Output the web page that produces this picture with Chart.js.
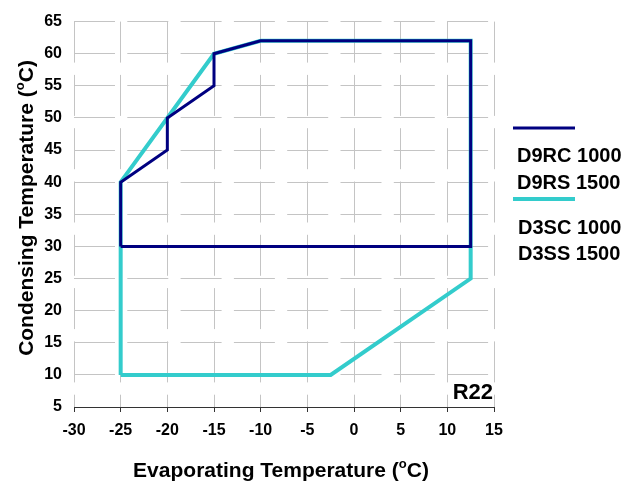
<!DOCTYPE html>
<html>
<head>
<meta charset="utf-8">
<script src="https://cdn.jsdelivr.net/npm/chart.js@4.4.0/dist/chart.umd.min.js"></script>
<style>
  html, body { margin: 0; padding: 0; background: #fff; }
  #wrap { width: 644px; height: 487px; }
</style>
</head>
<body>
<div id="wrap"><canvas id="chart" width="644" height="487"></canvas></div>
<script>
// operating envelope D9RC 1000 / D9RS 1500 (evaporating, condensing)
const evapD9 = [-25, -25, -20, -20, -15, -15, -10, 12.5, 12.5, -25];
const condD9 = [30, 40, 45, 50, 55, 60, 62, 62, 30, 30];
// operating envelope D3SC 1000 / D3SS 1500
const evapD3 = [-25, -25, -15, -10, 12.5, 12.5, -2.5, -25];
const condD3 = [10, 40, 60, 62, 62, 25, 10, 10];

const legendD9 = ['D9RC 1000', 'D9RS 1500'];
const legendD3 = ['D3SC 1000', 'D3SS 1500'];
const refrigerant = 'R22';

const xTitle = ['Evaporating Temperature (', 'o', 'C)'];
const yTitle = ['Condensing Temperature (', 'o', 'C)'];

const NAVY = '#000080';
const CYAN = '#33CCCC';
const FONT = '"Liberation Sans", Arial, sans-serif';

function toPoints(xs, ys) {
    return xs.map((x, i) => ({ x: x, y: ys[i] }));
}

// --- draw "text (oC)" with a raised small o ---
function drawSupText(ctx, parts, x, y, size) {
    const big = 'bold ' + size + 'px ' + FONT;
    const small = 'bold ' + Math.round(size * 0.62) + 'px ' + FONT;
    ctx.font = big;
    const w1 = ctx.measureText(parts[0]).width;
    const w3 = ctx.measureText(parts[2]).width;
    ctx.font = small;
    const w2 = ctx.measureText(parts[1]).width;
    let cx = x - (w1 + w2 + w3) / 2;
    ctx.textAlign = 'left';
    ctx.textBaseline = 'alphabetic';
    ctx.font = big;
    ctx.fillText(parts[0], cx, y);
    cx += w1;
    ctx.font = small;
    ctx.fillText(parts[1], cx, y - size * 0.42);
    cx += w2;
    ctx.font = big;
    ctx.fillText(parts[2], cx, y);
}

const annotations = {
    id: 'annotations',
    afterDraw(chart) {
        const ctx = chart.ctx;
        ctx.save();
        ctx.fillStyle = '#000';

        // axis titles
        drawSupText(ctx, xTitle, 281, 477, 21);
        ctx.save();
        ctx.translate(33, 208);
        ctx.rotate(-Math.PI / 2);
        drawSupText(ctx, yTitle, 0, 0, 21);
        ctx.restore();

        // refrigerant label
        ctx.font = 'bold 22px ' + FONT;
        ctx.textAlign = 'right';
        ctx.textBaseline = 'alphabetic';
        ctx.fillText(refrigerant, 493, 399);

        // legend
        ctx.lineCap = 'butt';
        ctx.strokeStyle = NAVY;
        ctx.lineWidth = 3;
        ctx.beginPath();
        ctx.moveTo(513, 128);
        ctx.lineTo(575, 128);
        ctx.stroke();
        ctx.strokeStyle = CYAN;
        ctx.lineWidth = 4;
        ctx.beginPath();
        ctx.moveTo(513, 199);
        ctx.lineTo(575, 199);
        ctx.stroke();

        ctx.font = 'bold 20px ' + FONT;
        ctx.textAlign = 'left';
        ctx.fillText(legendD9[0], 517, 162);
        ctx.fillText(legendD9[1], 517, 189);
        ctx.fillText(legendD3[0], 518, 234);
        ctx.fillText(legendD3[1], 518, 260);
        ctx.restore();
    }
};

const gridDash = [41, 12.3];

new Chart(document.getElementById('chart'), {
    type: 'scatter',
    data: {
        datasets: [
            {
                label: legendD9.join(' / '),
                data: toPoints(evapD9, condD9),
                showLine: true,
                borderColor: NAVY,
                borderWidth: 3,
                pointRadius: 0,
                fill: false,
                tension: 0
            },
            {
                label: legendD3.join(' / '),
                data: toPoints(evapD3, condD3),
                showLine: true,
                borderColor: CYAN,
                borderWidth: 4,
                pointRadius: 0,
                fill: false,
                tension: 0
            }
        ]
    },
    options: {
        responsive: false,
        animation: false,
        devicePixelRatio: 1,
        layout: { padding: { left: 0, top: 13, right: 150, bottom: 0 } },
        plugins: {
            legend: { display: false },
            tooltip: { enabled: false }
        },
        scales: {
            x: {
                type: 'linear',
                min: -30,
                max: 15,
                afterFit: function(scale) { scale.height = 80; },
                ticks: {
                    stepSize: 5,
                    padding: 9,
                    color: '#000',
                    font: { family: FONT, size: 16, weight: 'bold' }
                },
                grid: {
                    color: '#c4c4c4',
                    lineWidth: 1,
                    drawTicks: true,
                    tickLength: 5,
                    tickColor: '#333'
                },
                border: { display: true, color: '#333', width: 1, dash: gridDash, dashOffset: 0 }
            },
            y: {
                type: 'linear',
                min: 5,
                max: 65,
                afterFit: function(scale) { scale.width = 74; },
                ticks: {
                    stepSize: 5,
                    padding: 12,
                    color: '#000',
                    font: { family: FONT, size: 16, weight: 'bold' }
                },
                grid: {
                    color: '#c4c4c4',
                    lineWidth: 1,
                    drawTicks: false
                },
                border: { display: false, dash: gridDash, dashOffset: 0 }
            }
        }
    },
    plugins: [annotations]
});
</script>
</body>
</html>
